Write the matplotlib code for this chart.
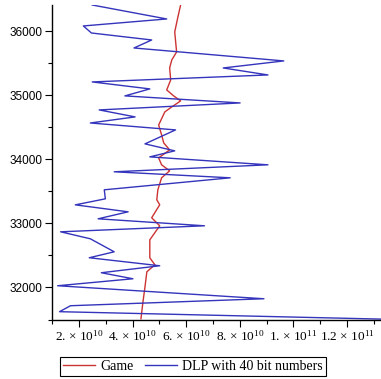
import matplotlib
matplotlib.use("Agg")
import matplotlib.pyplot as plt
import numpy as np

# DLP with 40 bit numbers (x in units of 1e10)
dlp_x = np.array([2.49, 5.27, 2.16, 2.46, 4.71, 4.05, 9.64, 7.38, 9.05, 2.49,
                  4.64, 3.71, 8.01, 2.75, 4.09, 2.42, 5.60, 4.46, 5.57, 4.64,
                  9.05, 3.31, 7.64, 2.94, 2.98, 1.86, 3.83, 2.71, 6.68, 1.31,
                  2.42, 3.31, 2.38, 5.01, 2.83, 4.01, 1.20, 8.90, 1.68, 1.27,
                  16.0]) * 1e10
dlp_y = np.array([36410, 36192, 36083, 35973, 35864, 35739, 35537, 35427, 35318, 35209,
                  35100, 34991, 34881, 34772, 34663, 34568, 34460, 34242, 34133, 34039,
                  33915, 33806, 33712, 33525, 33384, 33290, 33181, 33072, 32963, 32869,
                  32760, 32557, 32464, 32339, 32230, 32136, 32027, 31824, 31715, 31622,
                  31480])

# Game
game_x = np.array([5.79, 5.68, 5.57, 5.64, 5.46, 5.38, 5.42, 5.27, 5.53, 5.79,
                   5.46, 5.20, 4.97, 5.08, 5.16, 5.38, 4.97, 5.08, 5.38, 5.08,
                   4.94, 4.90, 5.01, 4.71, 5.01, 4.64, 4.64, 4.83, 4.53, 4.46,
                   4.38, 4.31]) * 1e10
game_y = np.array([36410, 36207, 35989, 35677, 35552, 35427, 35240, 35084, 34991, 34913,
                   34819, 34741, 34537, 34382, 34257, 34148, 34023, 33915, 33821, 33712,
                   33525, 33369, 33291, 33088, 32963, 32744, 32463, 32354, 32245, 32011,
                   31761, 31512])

xtick_vals = [2e10, 4e10, 6e10, 8e10, 1e11, 1.2e11]
xtick_labels = [r"2. $\times$ 10$^{10}$", r"4. $\times$ 10$^{10}$", r"6. $\times$ 10$^{10}$",
                r"8. $\times$ 10$^{10}$", r"1. $\times$ 10$^{11}$", r"1.2 $\times$ 10$^{11}$"]
ytick_vals = [32000, 33000, 34000, 35000, 36000]

plt.rcParams['mathtext.fontset'] = 'custom'
plt.rcParams['mathtext.rm'] = 'Liberation Serif'
plt.rcParams['mathtext.default'] = 'regular'

fig = plt.figure(figsize=(3.81, 3.79), dpi=100)
ax = fig.add_axes([52.3 / 381, 59.5 / 379, 1 - 52.3 / 381, 314.5 / 379])

ax.plot(game_x, game_y, color="#cc3333", lw=1.0, label="Game")
ax.plot(dlp_x, dlp_y, color="#3434bc", lw=1.0, label="DLP with 40 bit numbers")

ax.set_xlim(1.096e10, 1.327e11)
ax.set_ylim(31504, 36410)

ax.spines['top'].set_visible(False)
ax.spines['right'].set_visible(False)
ax.spines['left'].set_linewidth(1.0)
ax.spines['bottom'].set_linewidth(1.0)

ax.set_xticks(xtick_vals)
ax.set_xticklabels(xtick_labels, fontfamily="Liberation Serif", fontsize=9.5)
ax.set_xticks(np.arange(1e10, 1.4e11, 1e10), minor=True)
ax.set_yticks(ytick_vals)
ax.set_yticklabels([str(v) for v in ytick_vals], fontfamily="Liberation Sans", fontsize=8.5)
ax.set_yticks(np.arange(31500, 36500, 500), minor=True)
ax.tick_params(which='major', direction='out', length=5, width=0.8, pad=2)
ax.tick_params(which='minor', direction='out', length=3, width=0.8)

leg = fig.legend(loc='center', bbox_to_anchor=(193 / 381, 1 - 366.5 / 379), ncol=2,
                 prop={'family': 'Liberation Serif', 'size': 10}, fancybox=False,
                 edgecolor='black', handlelength=2.3, columnspacing=0.8,
                 handletextpad=0.4, borderpad=0.2, framealpha=1)
leg.get_frame().set_linewidth(0.8)

fig.savefig("out.png", dpi=100)
